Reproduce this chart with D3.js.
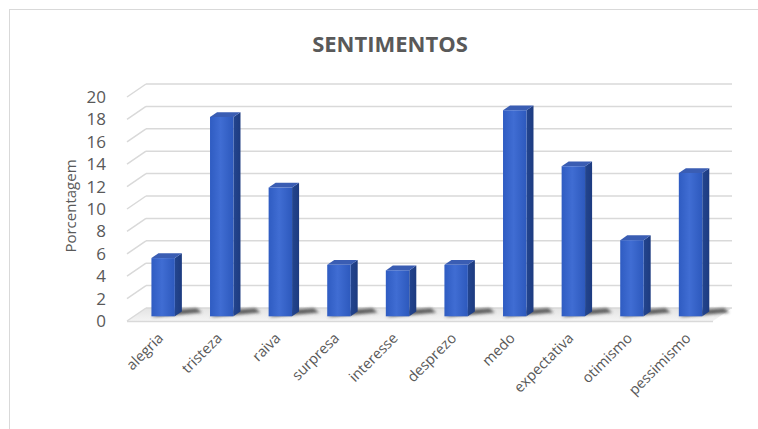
<!DOCTYPE html>
<html><head><meta charset="utf-8">
<script src="https://cdn.jsdelivr.net/npm/d3@7"></script>
<style>body{margin:0;background:#fff}svg{display:block}</style>
</head><body>
<script>
const categories = ["alegria","tristeza","raiva","surpresa","interesse","desprezo","medo","expectativa","otimismo","pessimismo"];
const values = [5.2, 17.8, 11.5, 4.6, 4.1, 4.6, 18.4, 13.4, 6.8, 12.8];
const yTicks = [0,2,4,6,8,10,12,14,16,18,20];
const title = "SENTIMENTOS";
const yTitle = "Porcentagem";

const W = 758, H = 429;
const svg = d3.select("body").append("svg").attr("width", W).attr("height", H);
const defs = svg.append("defs");

// 3D projection: depth d in [0,1] shifts by (DX*d, -DY*d)
const DX = 19, DY = 13;
const x = d3.scaleBand().domain(categories).range([127, 713]).padding(0);
const y = d3.scaleLinear().domain([0, 20]).range([321, 97]);
const D0 = 0.36, D1 = 0.73;
const bw = x.bandwidth() * 0.4;

// chart border
svg.append("rect").attr("x", 9.5).attr("y", 9.5).attr("width", W + 20).attr("height", H + 20)
  .attr("fill", "none").attr("stroke", "#d9d9d9");

// title
svg.append("text").attr("x", 390).attr("y", 52).attr("text-anchor", "middle")
  .attr("font-family", "'Open Sans', sans-serif").attr("font-weight", "bold").attr("font-size", 22)
  .attr("fill", "#595959").text(title);

// floor gradient
const fg = defs.append("linearGradient").attr("id", "floorG").attr("x1", 0).attr("y1", 0).attr("x2", 0).attr("y2", 1);
fg.append("stop").attr("offset", "0%").attr("stop-color", "#e3e3e3");
fg.append("stop").attr("offset", "100%").attr("stop-color", "#f4f4f4");

const x0 = x.range()[0], x1 = x.range()[1];
svg.append("polygon")
  .attr("points", [[x0, y(0)], [x1, y(0)], [x1 + DX, y(0) - DY], [x0 + DX, y(0) - DY]].map(p => p.join(",")).join(" "))
  .attr("fill", "url(#floorG)");
svg.append("line").attr("x1", x0).attr("x2", x1).attr("y1", y(0) + 0.5).attr("y2", y(0) + 0.5)
  .attr("stroke", "#d9d9d9").attr("stroke-width", 1.5);

// gridlines (back wall + side wall)
const grid = svg.append("g").attr("stroke", "#d9d9d9").attr("stroke-width", 1.5).attr("fill", "none");
yTicks.forEach(v => {
  const yy = y(v);
  grid.append("line").attr("x1", x0 + DX).attr("x2", x1 + DX).attr("y1", yy - DY).attr("y2", yy - DY);
  grid.append("line").attr("x1", x0).attr("x2", x0 + DX).attr("y1", yy).attr("y2", yy - DY);
});

// y axis labels
const yAxis = d3.axisLeft(y).tickValues(yTicks).tickSize(0).tickPadding(0).tickFormat(d3.format("d"));
const ya = svg.append("g").attr("transform", "translate(106,0)").call(yAxis);
ya.select(".domain").remove();
ya.selectAll("text").attr("font-family", "'Open Sans', sans-serif").attr("font-size", 17).attr("fill", "#595959");

svg.append("text").attr("transform", "translate(76,206) rotate(-90)").attr("text-anchor", "middle")
  .attr("font-family", "'Open Sans', sans-serif").attr("font-size", 15).attr("fill", "#595959").text(yTitle);

// gradients for bars
const front = defs.append("linearGradient").attr("id", "frontG").attr("x1", 0).attr("x2", 1).attr("y1", 0).attr("y2", 0);
front.append("stop").attr("offset", "0%").attr("stop-color", "#2f5cc2");
front.append("stop").attr("offset", "45%").attr("stop-color", "#406dd3");
front.append("stop").attr("offset", "100%").attr("stop-color", "#2d59bd");
const side = defs.append("linearGradient").attr("id", "sideG").attr("x1", 0).attr("x2", 1).attr("y1", 0).attr("y2", 0);
side.append("stop").attr("offset", "0%").attr("stop-color", "#23458f");
side.append("stop").attr("offset", "100%").attr("stop-color", "#1d3b80");

const blur = defs.append("filter").attr("id", "shadowBlur").attr("x", "-50%").attr("y", "-50%").attr("width", "200%").attr("height", "200%");
blur.append("feGaussianBlur").attr("stdDeviation", 1.6);

const data = categories.map((c, i) => ({ c, v: values[i] }));
const bars = svg.append("g");

// shadows on the floor
bars.selectAll(".shadow").data(data).join("polygon").attr("class", "shadow")
  .attr("points", d => {
    const cx = x(d.c) + x.bandwidth() / 2;
    const l = cx - bw / 2, r = cx + bw / 2, b = y(0);
    const pts = [
      [l + DX * D0, b - DY * D0 + 1],
      [r + DX * D1 + 20, b - DY * D1 + 1],
      [r + DX * 0.98 + 10, b - DY * 0.98],
      [l + DX * D1 + 8, b - DY * D1 - 1]
    ];
    return pts.map(p => p.join(",")).join(" ");
  })
  .attr("fill", "#3a3a3a").attr("opacity", 0.8).attr("filter", "url(#shadowBlur)");

data.forEach(d => {
  const cx = x(d.c) + x.bandwidth() / 2;
  const l = cx - bw / 2, r = cx + bw / 2;
  const yt = y(d.v), yb = y(0);
  const f = (px, py, dd) => [px + DX * dd, py - DY * dd];
  const g = bars.append("g");
  g.append("polygon").attr("points", [f(r, yt, D0), f(r, yt, D1), f(r, yb, D1), f(r, yb, D0)].map(p => p.join(",")).join(" "))
    .attr("fill", "url(#sideG)");
  g.append("polygon").attr("points", [f(l, yt, D0), f(r, yt, D0), f(r, yt, D1), f(l, yt, D1)].map(p => p.join(",")).join(" "))
    .attr("fill", "#3a5db3");
  const fl = f(l, yt, D0), fr = f(r, yb, D0);
  g.append("rect").attr("x", fl[0]).attr("y", fl[1]).attr("width", fr[0] - fl[0]).attr("height", fr[1] - fl[1])
    .attr("fill", "url(#frontG)");
});

// category labels
svg.append("g").selectAll("text").data(categories).join("text")
  .attr("transform", d => `translate(${x(d) + x.bandwidth() / 2 + 8},${339}) rotate(-45)`)
  .attr("text-anchor", "end")
  .attr("font-family", "'Open Sans', sans-serif").attr("font-size", 14.5).attr("fill", "#595959")
  .text(d => d);
</script>
</body></html>
